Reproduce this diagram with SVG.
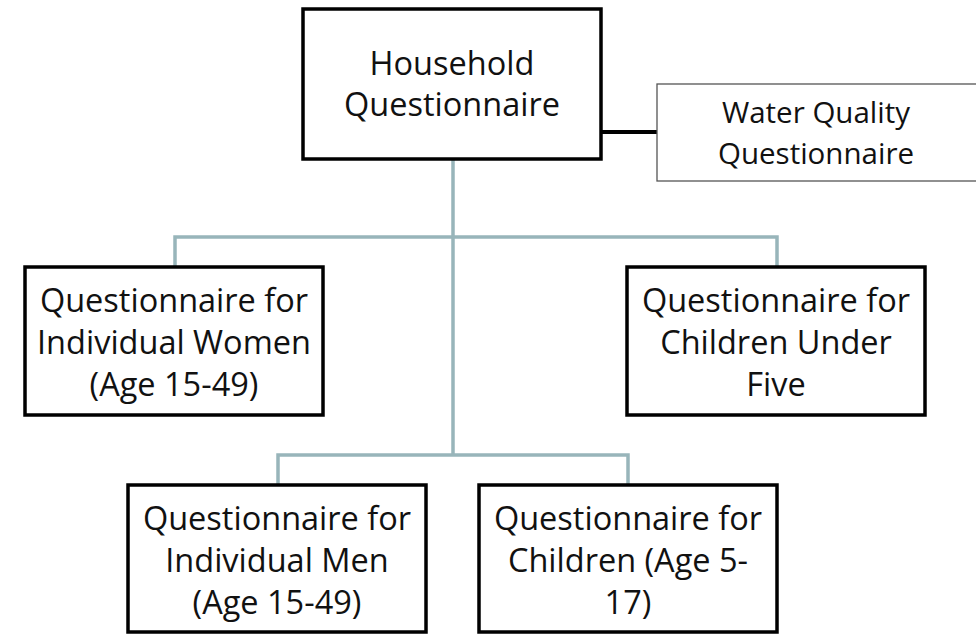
<svg xmlns="http://www.w3.org/2000/svg" width="976" height="634" viewBox="0 0 976 634">
<style>
.box{fill:#fff;stroke:#000;stroke-width:3.5}
.thin{fill:#fff;stroke:#555;stroke-width:1.3}
.t{font-family:"Open Sans","Liberation Sans",sans-serif;font-size:32.5px;fill:#111;text-anchor:middle}
.ts{font-family:"Open Sans","Liberation Sans",sans-serif;font-size:29.5px;fill:#111;text-anchor:middle}
.c{fill:none;stroke:#98b5ba;stroke-width:3.5}
</style>
<rect width="976" height="634" fill="#fff"/>
<g id="connectors">
<path class="c" d="M453 159V455M175 267V237H777V267M278 485V455H628V485"/>
<path d="M601 132H657" stroke="#000" stroke-width="4" fill="none"/>
</g>
<g id="household">
<rect class="box" x="303" y="9" width="298" height="150"/>
<text class="t" x="452" y="75">Household</text>
<text class="t" x="452" y="116">Questionnaire</text>
</g>
<g id="water">
<rect class="thin" x="657" y="84" width="330" height="97"/>
<text class="ts" x="816" y="123">Water Quality</text>
<text class="ts" x="816" y="164">Questionnaire</text>
</g>
<g id="women">
<rect class="box" x="25" y="267" width="298" height="148"/>
<text class="t" x="174" y="312">Questionnaire for</text>
<text class="t" x="174" y="354">Individual Women</text>
<text class="t" x="174" y="396">(Age 15-49)</text>
</g>
<g id="under5">
<rect class="box" x="627" y="267" width="298" height="148"/>
<text class="t" x="776" y="312">Questionnaire for</text>
<text class="t" x="776" y="354">Children Under</text>
<text class="t" x="776" y="396">Five</text>
</g>
<g id="men">
<rect class="box" x="128" y="485" width="298" height="147"/>
<text class="t" x="277" y="530">Questionnaire for</text>
<text class="t" x="277" y="572">Individual Men</text>
<text class="t" x="277" y="614">(Age 15-49)</text>
</g>
<g id="children">
<rect class="box" x="479" y="485" width="298" height="147"/>
<text class="t" x="628" y="530">Questionnaire for</text>
<text class="t" x="628" y="572">Children (Age 5-</text>
<text class="t" x="628" y="614">17)</text>
</g>
</svg>
